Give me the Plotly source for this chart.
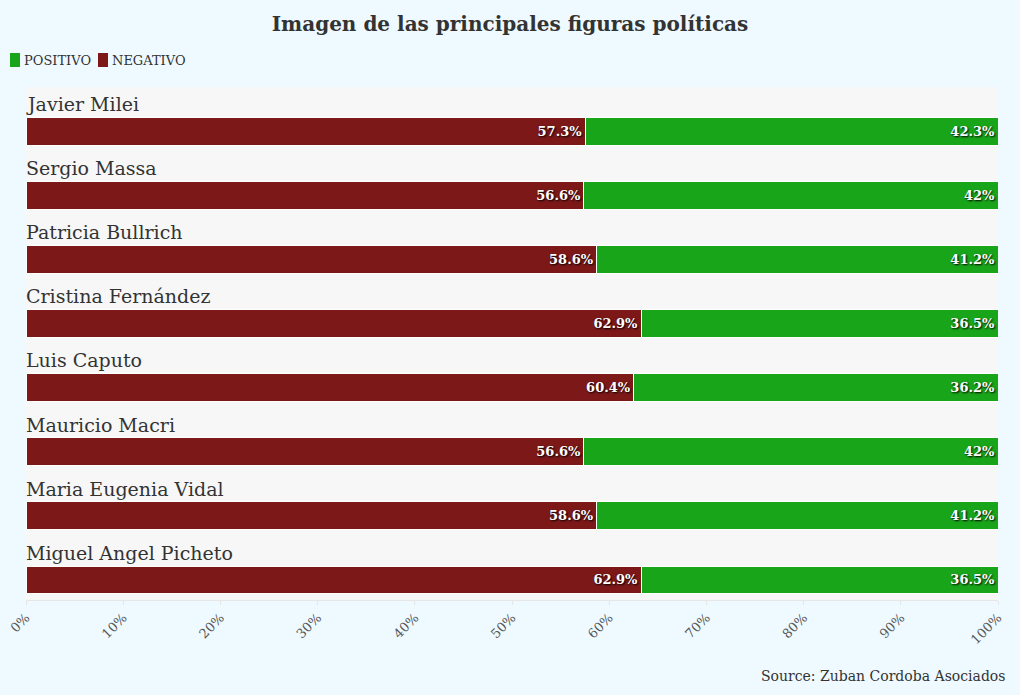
import plotly.graph_objects as go

names = ["Javier Milei", "Sergio Massa", "Patricia Bullrich", "Cristina Fernández",
         "Luis Caputo", "Mauricio Macri", "Maria Eugenia Vidal", "Miguel Angel Picheto"]
negativo = [57.3, 56.6, 58.6, 62.9, 60.4, 56.6, 58.6, 62.9]
positivo = [42.3, 42.0, 41.2, 36.5, 36.2, 42.0, 41.2, 36.5]
tick_vals = [0, 10, 20, 30, 40, 50, 60, 70, 80, 90, 100]
series_names = ["POSITIVO", "NEGATIVO"]

FONT = "DejaVu Serif"
RED = "#7c1818"
GREEN = "#19a519"
W, H = 1020, 695
L, R, T, B = 26, 22, 87, 95
PW, PH = W - L - R, H - T - B

def px_x(px):
    return (px - L) / PW

def px_y(py):
    return (H - B - py) / PH

def fmt(v):
    return (f"{v:.1f}".rstrip("0").rstrip(".")) + "%"

ypos = list(range(len(names)))
txtfont = dict(family=FONT, size=13, color="white", weight="bold",
               shadow="1px 1px 2px #000")

fig = go.Figure()
fig.add_trace(go.Bar(
    name="NEGATIVO", y=ypos, x=negativo, orientation="h",
    marker=dict(color=RED, line=dict(color="white", width=1)),
    text=[fmt(v) for v in negativo], textposition="inside", insidetextanchor="end",
    textfont=txtfont, width=0.435, offset=-0.03, hoverinfo="x+name", showlegend=False))
fig.add_trace(go.Bar(
    name="POSITIVO", y=ypos, x=positivo, orientation="h",
    marker=dict(color=GREEN, line=dict(color="white", width=1)),
    text=[fmt(v) for v in positivo], textposition="inside", insidetextanchor="end",
    textfont=txtfont, width=0.435, offset=-0.03, hoverinfo="x+name", showlegend=False))

for i, n in enumerate(names):
    fig.add_annotation(x=px_x(24), y=i - 0.235, xref="paper", yref="y", text=n, showarrow=False,
                       xanchor="left", yanchor="middle",
                       font=dict(family=FONT, size=19, color="#333333"))

# custom legend (swatches + labels)
legend_items = [(series_names[0], GREEN, 10), (series_names[1], RED, 98)]
for label, col, x0 in legend_items:
    fig.add_shape(type="rect", xref="paper", yref="paper",
                  x0=px_x(x0), x1=px_x(x0 + 10), y0=px_y(67), y1=px_y(53),
                  fillcolor=col, line=dict(width=0), layer="above")
    fig.add_annotation(x=px_x(x0 + 12), y=px_y(60), xref="paper", yref="paper", text=label,
                       showarrow=False, xanchor="left", yanchor="middle",
                       font=dict(family=FONT, size=13, color="#333333"))

fig.add_annotation(x=px_x(1008), y=px_y(676), xref="paper", yref="paper",
                   text="Source: Zuban Cordoba Asociados",
                   showarrow=False, xanchor="right", yanchor="middle",
                   font=dict(family=FONT, size=14, color="#333333"))

fig.update_layout(
    width=W, height=H,
    barmode="stack", barnorm="percent",
    paper_bgcolor="#eefaff", plot_bgcolor="#f7f7f7",
    margin=dict(l=L, r=R, t=T, b=B, autoexpand=False),
    title=dict(text="<b>Imagen de las principales figuras políticas</b>", x=0.5, xanchor="center",
               y=1 - 24 / H, yanchor="middle", yref="container",
               font=dict(family=FONT, size=20, color="#333333")),
    showlegend=False,
    xaxis=dict(range=[0, 100], tickvals=tick_vals, ticktext=[f"{v}%" for v in tick_vals],
               tickangle=-45, showgrid=False, zeroline=False, showline=True, linecolor="#e6e6e6",
               ticks="outside", ticklen=4, tickcolor="#e6e6e6", automargin=False,
               tickfont=dict(family=FONT, size=13, color="#555555"), fixedrange=True),
    yaxis=dict(range=[7.5, -0.5], showticklabels=False, showgrid=False, zeroline=False,
               fixedrange=True, automargin=False),
)

fig.write_html("out.html", config={"displayModeBar": False},
               post_script="document.body.style.margin='0';document.body.style.overflow='hidden';")
